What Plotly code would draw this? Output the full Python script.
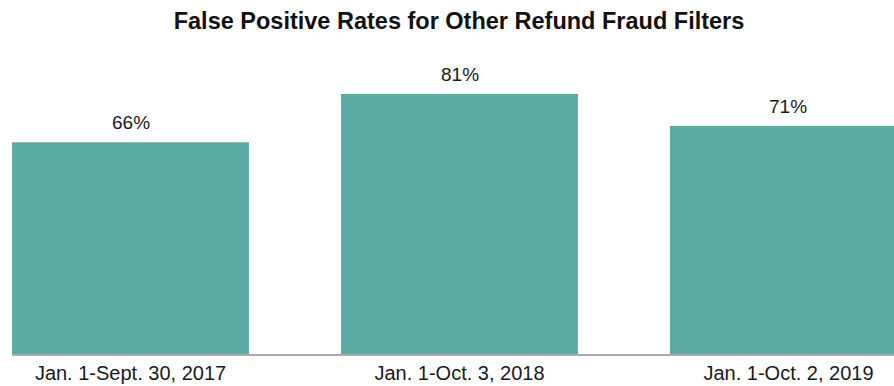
import plotly.graph_objects as go

categories = ["Jan. 1-Sept. 30, 2017", "Jan. 1-Oct. 3, 2018", "Jan. 1-Oct. 2, 2019"]
values = [66, 81, 71]
labels = ["66%", "81%", "71%"]

fig = go.Figure(go.Bar(
    x=list(range(len(categories))),
    y=values,
    marker=dict(color="#5BABA5", line=dict(width=0)),
    width=0.72,
    hoverinfo="skip",
))

for i, (v, lab) in enumerate(zip(values, labels)):
    fig.add_annotation(
        x=i, y=v, text=lab, showarrow=False,
        xref="x", yref="y", yanchor="bottom", yshift=7,
        font=dict(family="Liberation Sans, Arial, sans-serif", size=19, color="#1a1a1a"),
    )

fig.update_layout(
    width=894, height=386,
    margin=dict(l=12, r=0, t=60, b=32),
    paper_bgcolor="white", plot_bgcolor="white",
    showlegend=False,
    title=dict(
        text="False Positive Rates for Other Refund Fraud Filters",
        x=459/894, xanchor="center", xref="container",
        y=1 - 21/386, yanchor="middle", yref="container",
        font=dict(family="Liberation Sans, Arial, sans-serif", size=23.5, color="#111111", weight="bold"),
    ),
    xaxis=dict(
        range=[-0.3602, 2.3207],
        tickmode="array", tickvals=list(range(len(categories))), ticktext=categories,
        showline=True, linecolor="#ABABAB", linewidth=2,
        showgrid=False, zeroline=False, ticks="",
        tickfont=dict(family="Liberation Sans, Arial, sans-serif", size=20, color="#1a1a1a"),
    ),
    yaxis=dict(range=[0, 294/3.21], visible=False, showgrid=False, zeroline=False),
)

fig.write_html("out.html")
